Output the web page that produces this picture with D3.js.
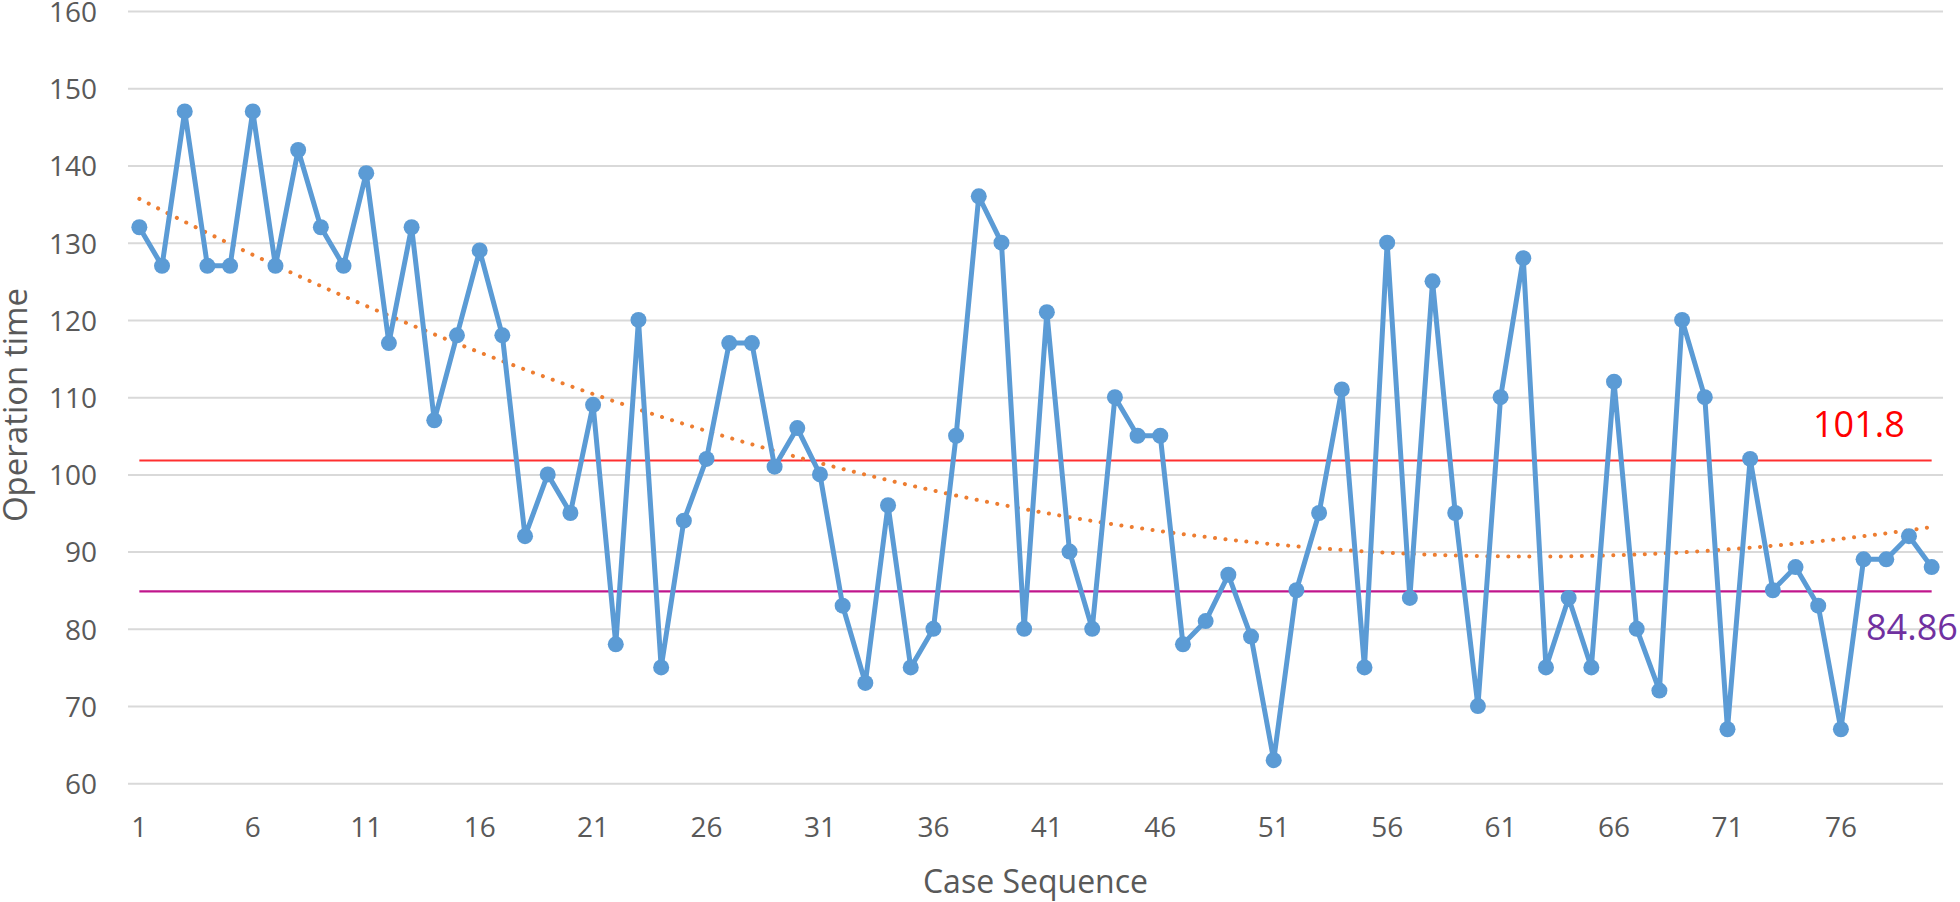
<!DOCTYPE html>
<html>
<head>
<meta charset="utf-8">
<script src="https://cdn.jsdelivr.net/npm/d3@7"></script>
<style>
  html, body { margin: 0; padding: 0; background: #ffffff; }
  svg { display: block; }
</style>
</head>
<body>
<svg id="chart" width="1960" height="902"></svg>
<script>
// ---- Data ----
const caseNumbers = d3.range(1, 81);
const operationTimes = [
  132, 127, 147, 127, 127, 147, 127, 142, 132, 127,
  139, 117, 132, 107, 118, 129, 118, 92, 100, 95,
  109, 78, 120, 75, 94, 102, 117, 117, 101, 106,
  100, 83, 73, 96, 75, 80, 105, 136, 130, 80,
  121, 90, 80, 110, 105, 105, 78, 81, 87, 79,
  63, 85, 95, 111, 75, 130, 84, 125, 95, 70,
  110, 128, 75, 84, 75, 112, 80, 72, 120, 110,
  67, 102, 85, 88, 83, 67, 89, 89, 92, 88
];
const xTickLabels = [1, 6, 11, 16, 21, 26, 31, 36, 41, 46, 51, 56, 61, 66, 71, 76];
const yTickValues = [60, 70, 80, 90, 100, 110, 120, 130, 140, 150, 160];
const referenceLines = [
  { name: "mean", value: 101.8, label: "101.8" },
  { name: "lower", value: 84.86, label: "84.86" }
];
const xAxisTitle = "Case Sequence";
const yAxisTitle = "Operation time";

// ---- Polynomial (order 2) trendline, least squares fit of the series ----
function quadFit(xs, ys) {
  let s = [0, 0, 0, 0, 0], t = [0, 0, 0];
  xs.forEach((x, i) => {
    const y = ys[i];
    for (let k = 0; k < 5; k++) s[k] += Math.pow(x, k);
    for (let k = 0; k < 3; k++) t[k] += y * Math.pow(x, k);
  });
  const A = [[s[0], s[1], s[2], t[0]], [s[1], s[2], s[3], t[1]], [s[2], s[3], s[4], t[2]]];
  for (let i = 0; i < 3; i++) {
    let p = i;
    for (let r = i + 1; r < 3; r++) if (Math.abs(A[r][i]) > Math.abs(A[p][i])) p = r;
    [A[i], A[p]] = [A[p], A[i]];
    for (let r = 0; r < 3; r++) {
      if (r === i) continue;
      const f = A[r][i] / A[i][i];
      for (let c = i; c < 4; c++) A[r][c] -= f * A[i][c];
    }
  }
  return [A[0][3] / A[0][0], A[1][3] / A[1][1], A[2][3] / A[2][2]];
}
const coef = quadFit(caseNumbers, operationTimes);
const trendFn = x => coef[0] + coef[1] * x + coef[2] * x * x;

// ---- Layout ----
const svg = d3.select("#chart");
const plotLeft = 128, plotRight = 1943, plotTop = 11, plotBottom = 783.3;

const x = d3.scaleBand().domain(caseNumbers).range([plotLeft, plotRight]).padding(0);
const xc = d => x(d) + x.bandwidth() / 2;
const y = d3.scaleLinear().domain([60, 160]).range([plotBottom, plotTop]);

const xLin = d3.scaleLinear().domain([1, 80]).range([xc(1), xc(80)]);

const tickColor = "#595959";
const fontFamily = "'Open Sans', 'Noto Sans', sans-serif";

// Gridlines + y tick labels
const yAxis = d3.axisLeft(y).tickValues(yTickValues).tickSize(-(plotRight - plotLeft)).tickFormat(d3.format("d")).tickPadding(31);
const gY = svg.append("g").attr("transform", `translate(${plotLeft},0)`).call(yAxis);
gY.select(".domain").remove();
gY.selectAll(".tick line").attr("stroke", "#D9D9D9").attr("stroke-width", 2);
gY.selectAll(".tick text")
  .attr("fill", tickColor)
  .attr("font-family", fontFamily)
  .attr("font-size", 28)
  .attr("dy", "0.37em");

// X axis labels
const xAxis = d3.axisBottom(x).tickValues(xTickLabels).tickSize(0).tickPadding(0);
const gX = svg.append("g").attr("transform", `translate(0,${plotBottom})`).call(xAxis);
gX.select(".domain").remove();
gX.selectAll(".tick text")
  .attr("fill", tickColor)
  .attr("font-family", fontFamily)
  .attr("font-size", 28)
  .attr("dy", 0)
  .attr("y", 54);

// Reference lines
const refColors = { mean: "#FF2F2F", lower: "#C0168C" };
svg.append("g").selectAll("line").data(referenceLines).join("line")
  .attr("x1", xc(1)).attr("x2", xc(80))
  .attr("y1", d => y(d.value)).attr("y2", d => y(d.value))
  .attr("stroke", d => refColors[d.name]).attr("stroke-width", 2.2);

// Trendline
const trendPts = d3.range(1, 80.001, 0.25);
svg.append("path")
  .datum(trendPts)
  .attr("d", d3.line().x(d => xLin(d)).y(d => y(trendFn(d))))
  .attr("fill", "none")
  .attr("stroke", "#ED7D31")
  .attr("stroke-width", 4)
  .attr("stroke-linecap", "round")
  .attr("stroke-dasharray", "0.1 10.4");

// Series line
svg.append("path")
  .datum(caseNumbers)
  .attr("d", d3.line().x(d => xc(d)).y((d, i) => y(operationTimes[i])))
  .attr("fill", "none")
  .attr("stroke", "#5B9BD5")
  .attr("stroke-width", 5)
  .attr("stroke-linejoin", "round");

svg.append("g").selectAll("circle").data(caseNumbers).join("circle")
  .attr("cx", d => xc(d))
  .attr("cy", (d, i) => y(operationTimes[i]))
  .attr("r", 8)
  .attr("fill", "#5B9BD5");

// Reference labels
svg.append("text")
  .attr("x", 1813).attr("y", y(referenceLines[0].value) - 23)
  .attr("fill", "#FF0000").attr("font-family", fontFamily).attr("font-size", 36)
  .text(referenceLines[0].label);
svg.append("text")
  .attr("x", 1866).attr("y", y(referenceLines[1].value) + 49)
  .attr("fill", "#7030A0").attr("font-family", fontFamily).attr("font-size", 36)
  .text(referenceLines[1].label);

// Axis titles
svg.append("text")
  .attr("x", (plotLeft + plotRight) / 2).attr("y", 893)
  .attr("text-anchor", "middle")
  .attr("fill", tickColor).attr("font-family", fontFamily).attr("font-size", 32)
  .text(xAxisTitle);
svg.append("text")
  .attr("transform", "translate(27,405) rotate(-90)")
  .attr("text-anchor", "middle")
  .attr("fill", tickColor).attr("font-family", fontFamily).attr("font-size", 33)
  .text(yAxisTitle);
</script>
</body>
</html>
